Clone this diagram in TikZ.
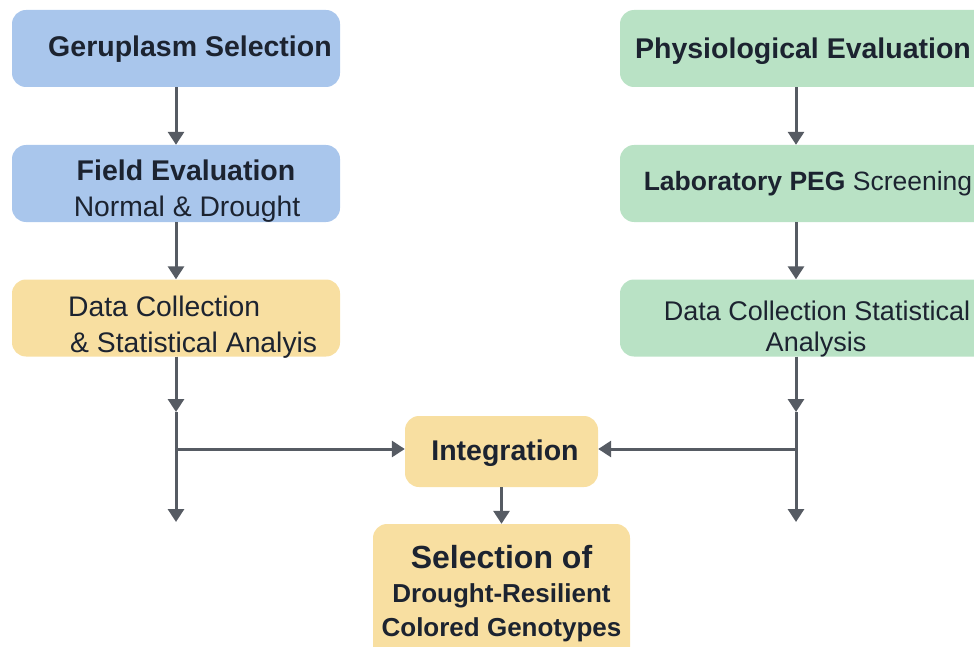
\documentclass[tikz,border=0pt]{standalone}
\usepackage{fontspec}
\setmainfont{Liberation Sans}
\usetikzlibrary{arrows.meta}

\definecolor{boxblue}{HTML}{A9C6EC}
\definecolor{boxgreen}{HTML}{B9E2C5}
\definecolor{boxyellow}{HTML}{F8DFA1}
\definecolor{arrowgrey}{HTML}{565B63}
\definecolor{inkdark}{HTML}{1C2330}

\begin{document}
\begin{tikzpicture}[x=1pt, y=-1pt,
    stagebox/.style={rounded corners=14pt, text=inkdark, align=center, inner sep=0pt},
    leftbox/.style={stagebox, minimum width=328pt, minimum height=77pt},
    rightbox/.style={stagebox, fill=boxgreen, minimum width=380pt, minimum height=77pt},
    textline/.style={text=inkdark, inner sep=0pt, anchor=base, font=\fontsize{28.3}{35}\selectfont},
    headline/.style={textline, font=\fontsize{28.5}{35}\selectfont\bfseries},
    flow/.style={draw=arrowgrey, line width=3pt, -{Triangle[width=16pt,length=13pt]}}]
  \useasboundingbox (0,0) rectangle (974,647);
  \clip (0,0) rectangle (974,647);

  % field trial column
  \node[leftbox, fill=boxblue] (germ) at (176,48.5) {};
  \node[leftbox, fill=boxblue] (field) at (176,183.5) {};
  \node[leftbox, fill=boxyellow] (data) at (176,318) {};
  \node[headline] (germ-t) at (190,57) {Geruplasm Selection};
  \node[headline] (field-t) at (186,181) {Field Evaluation};
  \node[textline] (cond-t) at (187,216) {Normal \& Drought};
  \node[textline, anchor=base west] (data-t) at (68,316) {Data Collection};
  \node[textline, anchor=base west] (stat-t) at (70,352) {\& Statistical Analyis};

  % laboratory column
  \node[rightbox] (phys) at (810,48.5) {};
  \node[rightbox] (lab) at (810,183.5) {};
  \node[rightbox] (rdata) at (810,318) {};
  \node[headline] (phys-t) at (803,59) {Physiological Evaluation};
  \node[textline, font=\fontsize{26.5}{35}\selectfont] (lab-t) at (808,190)
       {\textbf{Laboratory PEG} Screening};
  \node[textline, font=\fontsize{27}{35}\selectfont] (rdata-t) at (817,320) {Data Collection Statistical};
  \node[textline, font=\fontsize{27}{35}\selectfont] (rstat-t) at (816,351) {Analysis};

  % merging boxes
  \node[stagebox, fill=boxyellow, minimum width=193pt, minimum height=71pt] (integ) at (501.5,451.5) {};
  \node[headline] (integ-t) at (505,460) {Integration};
  \node[stagebox, fill=boxyellow, minimum width=257pt, minimum height=140pt,
        font=\fontsize{26}{34}\selectfont\bfseries] (sel) at (501.5,594)
        {{\fontsize{32}{36}\selectfont Selection of}\\Drought-Resilient\\Colored Genotypes};

  \coordinate (lmid) at (176,412);
  \coordinate (lend) at (176,522);
  \coordinate (ljoin) at (176,449);
  \coordinate (rx) at (796,0);
  \coordinate (rmid) at (796,412);
  \coordinate (rend) at (796,522);
  \coordinate (rjoin) at (796,449);

  \draw[flow] (germ) -- (field);
  \draw[flow] (field) -- (data);
  \draw[flow] (data.south) -- (lmid);
  \draw[flow] (lmid) -- (lend);
  \draw[flow] (ljoin) -- (ljoin -| integ.west);

  \draw[flow] (phys.south -| rx) -- (lab.north -| rx);
  \draw[flow] (lab.south -| rx) -- (rdata.north -| rx);
  \draw[flow] (rdata.south -| rx) -- (rmid);
  \draw[flow] (rmid) -- (rend);
  \draw[flow] (rjoin) -- (rjoin -| integ.east);

  \draw[flow] (integ) -- (sel);
\end{tikzpicture}
\end{document}
